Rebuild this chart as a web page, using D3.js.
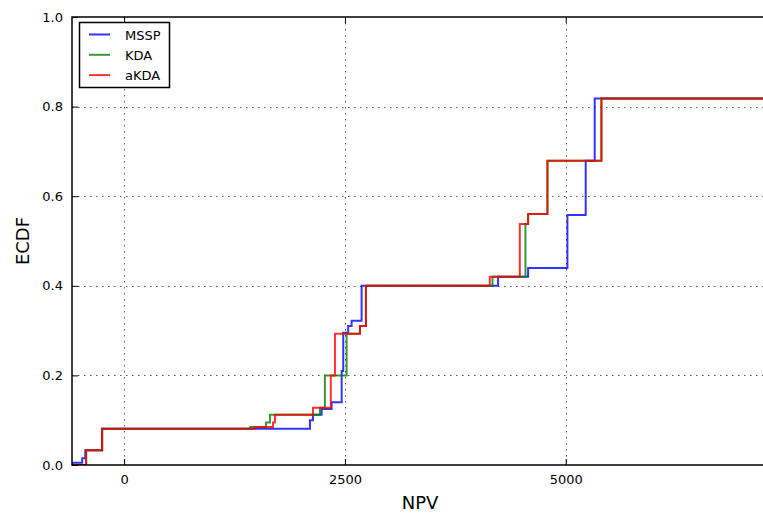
<!DOCTYPE html>
<html>
<head>
<meta charset="utf-8">
<script src="https://cdn.jsdelivr.net/npm/d3@7"></script>
<style>
  html, body { margin: 0; padding: 0; background: #fff; }
  svg { display: block; font-family: "DejaVu Sans", sans-serif; }
</style>
</head>
<body>
<svg id="chart" width="763" height="515"></svg>
<script>
// Empirical CDF step data: jump positions (NPV) and the ECDF level after each jump
const seriesNames = ["MSSP", "KDA", "aKDA"];
const seriesColors = ["#0000ff", "#008000", "#ff0000"];

const msspX = [-588, -475, -440, -249, 2104, 2138, 2236, 2349, 2463, 2481, 2537, 2576, 2689, 4234, 4574, 5019, 5226, 5328];
const msspY = [0.005, 0.015, 0.033, 0.081, 0.100, 0.112, 0.125, 0.140, 0.210, 0.295, 0.310, 0.322, 0.400, 0.420, 0.440, 0.558, 0.679, 0.818];

const kdaX = [-430, -249, 1430, 1606, 1652, 2217, 2273, 2519, 2670, 2738, 4171, 4544, 4574, 4793, 5404];
const kdaY = [0.033, 0.081, 0.085, 0.095, 0.112, 0.128, 0.200, 0.293, 0.310, 0.400, 0.420, 0.538, 0.560, 0.679, 0.818];

const akdaX = [-430, -249, 1480, 1686, 1708, 2138, 2340, 2387, 2670, 2738, 4140, 4480, 4574, 4793, 5404];
const akdaY = [0.033, 0.081, 0.085, 0.095, 0.112, 0.128, 0.200, 0.293, 0.310, 0.400, 0.420, 0.538, 0.560, 0.679, 0.818];

const xTicks = [0, 2500, 5000];
const yTicks = [0.0, 0.2, 0.4, 0.6, 0.8, 1.0];
const xDomain = [-590, 7290];
const yDomain = [0, 1];

const svg = d3.select("#chart");
const margin = { left: 72, top: 17, right: 768, bottom: 465 };

const x = d3.scaleLinear().domain(xDomain).range([margin.left, margin.right]);
const y = d3.scaleLinear().domain(yDomain).range([margin.bottom, margin.top]);

svg.append("defs").append("clipPath").attr("id", "plotClip")
  .append("rect")
  .attr("x", margin.left).attr("y", margin.top)
  .attr("width", margin.right - margin.left)
  .attr("height", margin.bottom - margin.top);

// dotted grid
const grid = svg.append("g").attr("clip-path", "url(#plotClip)");
grid.selectAll("line.gx").data(xTicks).join("line")
  .attr("class", "gx")
  .attr("x1", d => Math.round(x(d)) + 0.5).attr("x2", d => Math.round(x(d)) + 0.5)
  .attr("y1", margin.top).attr("y2", margin.bottom)
  .attr("stroke", "#555").attr("stroke-width", 1)
  .attr("stroke-dasharray", "1.5,4.5");
grid.selectAll("line.gy").data(yTicks.filter(d => d > 0 && d < 1)).join("line")
  .attr("class", "gy")
  .attr("y1", d => Math.round(y(d)) + 0.5).attr("y2", d => Math.round(y(d)) + 0.5)
  .attr("x1", margin.left).attr("x2", margin.right)
  .attr("stroke", "#555").attr("stroke-width", 1)
  .attr("stroke-dasharray", "1.5,4.5");

// ECDF step lines
function stepPoints(xs, ys) {
  const pts = [[xDomain[0], 0]];
  xs.forEach((v, i) => pts.push([v, ys[i]]));
  pts.push([xDomain[1], ys[ys.length - 1]]);
  return pts;
}
const line = d3.line().x(d => x(d[0])).y(d => y(d[1])).curve(d3.curveStepAfter);
const data = [[msspX, msspY], [kdaX, kdaY], [akdaX, akdaY]];
const lines = svg.append("g").attr("clip-path", "url(#plotClip)");
data.forEach((s, i) => {
  lines.append("path")
    .attr("d", line(stepPoints(s[0], s[1])))
    .attr("fill", "none")
    .attr("stroke", seriesColors[i])
    .attr("stroke-width", 2)
    .attr("stroke-opacity", 0.8);
});

// axes with inward ticks on all sides
const tickLen = 6;
const xb = svg.append("g").attr("transform", `translate(0,${margin.bottom})`)
  .call(d3.axisBottom(x).tickValues(xTicks).tickSizeInner(-tickLen).tickSizeOuter(0).tickPadding(10).tickFormat(d3.format("d")));
const xt = svg.append("g").attr("transform", `translate(0,${margin.top})`)
  .call(d3.axisTop(x).tickValues(xTicks).tickSizeInner(-tickLen).tickSizeOuter(0).tickFormat(""));
const yl = svg.append("g").attr("transform", `translate(${margin.left},0)`)
  .call(d3.axisLeft(y).tickValues(yTicks).tickSizeInner(-tickLen).tickSizeOuter(0).tickPadding(9).tickFormat(d3.format(".1f")));
[xb, xt, yl].forEach(g => {
  g.select(".domain").remove();
  g.selectAll(".tick line").attr("stroke", "#000").attr("stroke-width", 1);
  g.selectAll(".tick text").attr("fill", "#000").style("font-size", "13px").style("font-family", "DejaVu Sans, sans-serif");
});

// frame
svg.append("rect")
  .attr("x", margin.left).attr("y", margin.top)
  .attr("width", margin.right - margin.left)
  .attr("height", margin.bottom - margin.top)
  .attr("fill", "none").attr("stroke", "#000").attr("stroke-width", 1.5);

// axis titles
svg.append("text")
  .attr("x", (margin.left + margin.right) / 2).attr("y", 509)
  .attr("text-anchor", "middle").style("font-size", "18px")
  .text("NPV");
svg.append("text")
  .attr("transform", `translate(29,${(margin.top + margin.bottom) / 2}) rotate(-90)`)
  .attr("text-anchor", "middle").style("font-size", "18px")
  .text("ECDF");

// legend
const lg = svg.append("g");
lg.append("rect")
  .attr("x", 79.5).attr("y", 22.5).attr("width", 90).attr("height", 65)
  .attr("fill", "#fff").attr("stroke", "#000").attr("stroke-width", 1.5);
seriesNames.forEach((name, i) => {
  const ly = 34.5 + i * 20.3;
  lg.append("line")
    .attr("x1", 89).attr("x2", 110).attr("y1", ly).attr("y2", ly)
    .attr("stroke", seriesColors[i]).attr("stroke-width", 2).attr("stroke-opacity", 0.8);
  lg.append("text")
    .attr("x", 125).attr("y", ly + 5)
    .style("font-size", "13px")
    .text(name);
});
</script>
</body>
</html>
